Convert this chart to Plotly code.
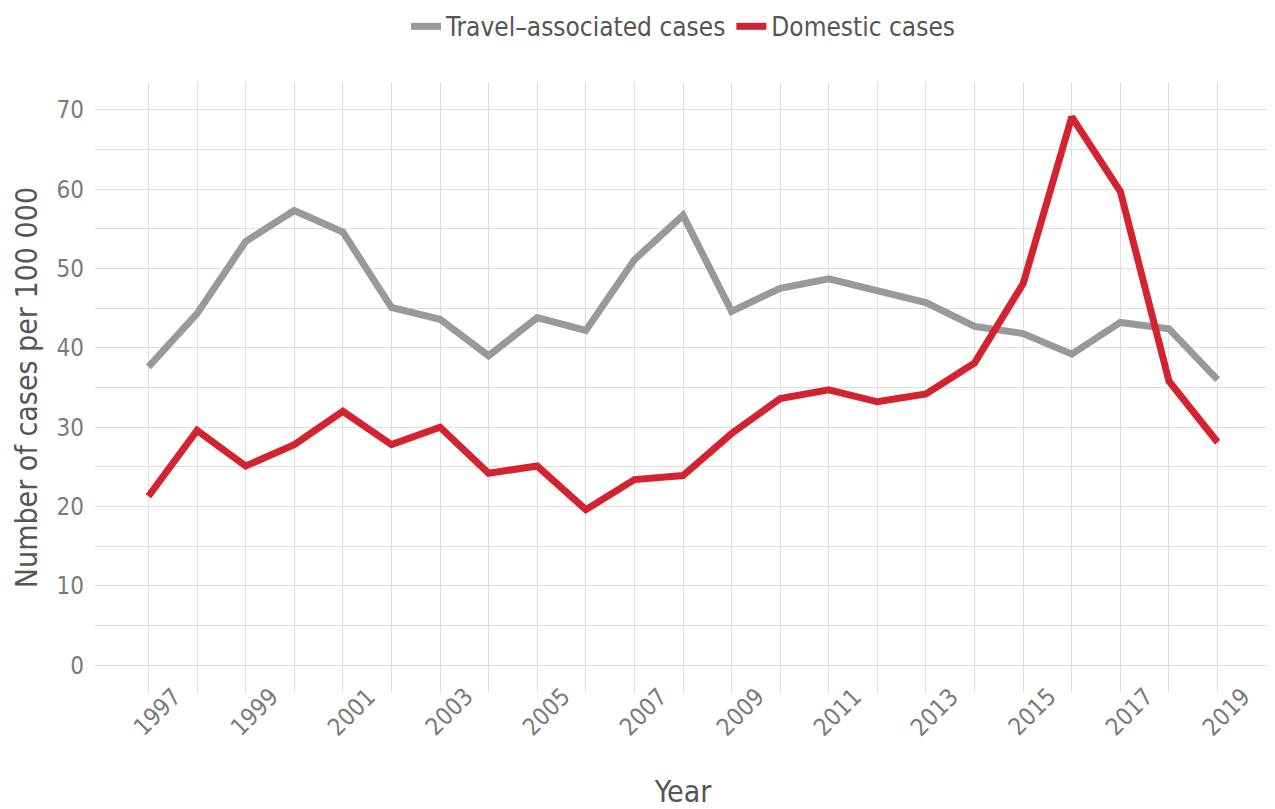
import plotly.graph_objects as go

years = list(range(1997, 2020))
travel = [37.6, 44.3, 53.4, 57.3, 54.6, 45.1, 43.6, 39.0, 43.8, 42.2, 51.1, 56.7,
          44.6, 47.5, 48.7, 47.1, 45.7, 42.7, 41.8, 39.2, 43.2, 42.4, 36.0]
domestic = [21.3, 29.6, 25.1, 27.8, 32.0, 27.8, 30.0, 24.2, 25.1, 19.6, 23.4, 23.9,
            29.2, 33.6, 34.7, 33.2, 34.2, 38.1, 48.1, 69.1, 59.7, 35.8, 28.1]
year_ticks = years[::2]
y_ticks = list(range(0, 71, 10))

FONT = "DejaVu Sans Condensed, Roboto, sans-serif"
GRID = "#dedede"
TICK_COL = "#7a7a7a"

fig = go.Figure()
fig.add_trace(go.Scatter(x=years, y=travel, mode="lines", name="Travel\u2013associated cases",
                         line=dict(color="#999999", width=7)))
fig.add_trace(go.Scatter(x=years, y=domestic, mode="lines", name="Domestic cases",
                         line=dict(color="#d42330", width=7)))

# the page has an 8px body margin, so the figure is a bit smaller than the window
fig.update_layout(
    width=1267, height=801,
    margin=dict(l=87, r=4, t=74, b=116),
    plot_bgcolor="white", paper_bgcolor="white",
    font=dict(family=FONT, color="#555555"),
    legend=dict(orientation="h", x=0.5, xanchor="center", y=0.977, yanchor="middle",
                yref="container",
                font=dict(size=26, color="#555555")),
    showlegend=True,
)

# rotated year labels, placed like ggplot's angle=45 labels
for yr in year_ticks:
    fig.add_annotation(x=yr, y=0, xref="x", yref="paper", text=str(yr),
                       showarrow=False, textangle=-45, xanchor="center", yanchor="middle",
                       xshift=9, yshift=-19, font=dict(size=24, color=TICK_COL))

fig.update_xaxes(
    range=[1995.9, 2020.1], automargin=False,
    tickmode="array", tickvals=year_ticks, showticklabels=False,
    showgrid=True, gridcolor=GRID, gridwidth=1.3,
    minor=dict(tickmode="array", tickvals=list(range(1998, 2019, 2)),
               showgrid=True, gridcolor=GRID, gridwidth=1.3),
    zeroline=False, showline=False, ticks="",
    title=dict(text="Year", font=dict(size=30, color="#555555"), standoff=89),
)
fig.update_yaxes(
    range=[-3.5, 73.5], automargin=False,
    tickmode="array", tickvals=y_ticks, ticklabelstandoff=10,
    tickfont=dict(size=24, color=TICK_COL),
    showgrid=True, gridcolor=GRID, gridwidth=1.3,
    minor=dict(tickmode="array", tickvals=list(range(5, 70, 10)),
               showgrid=True, gridcolor=GRID, gridwidth=1.3),
    zeroline=False, showline=False, ticks="",
    title=dict(text="Number of cases per 100 000", font=dict(size=30, color="#555555"), standoff=10),
)

fig.write_html("out.html")
